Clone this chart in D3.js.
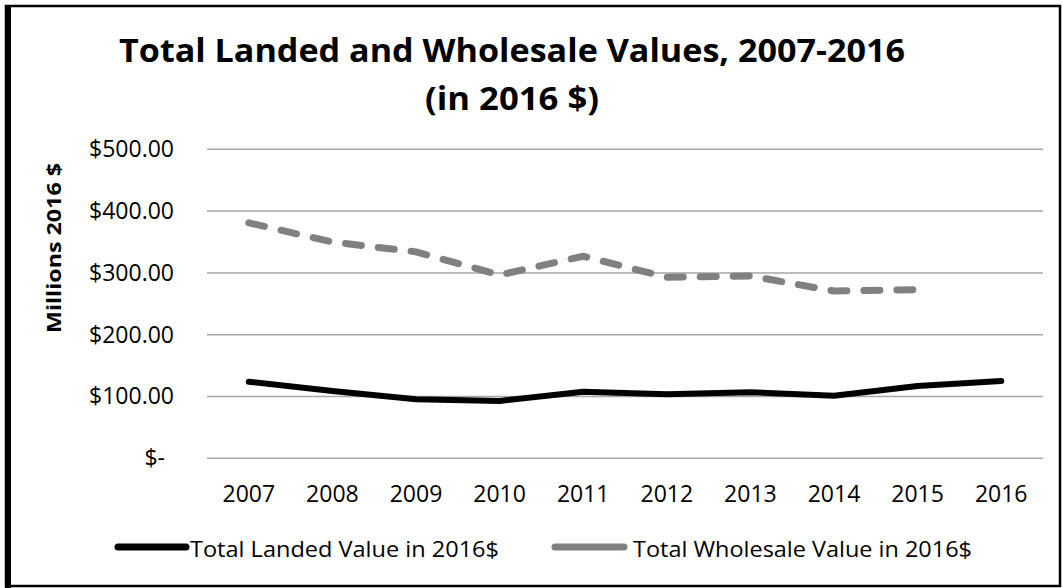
<!DOCTYPE html>
<html>
<head>
<meta charset="utf-8">
<script src="https://cdn.jsdelivr.net/npm/d3@7"></script>
<style>
  body { margin: 0; background: white; }
  svg { display: block; }
</style>
</head>
<body>
<script>
//Global sizes
var W = 1063;
var H = 588;
var PlotLeft = 207;
var PlotRight = 1043;
var PlotTop = 149.3;
var PlotBottom = 458.3;
var FontName = "'Open Sans', 'Liberation Sans', sans-serif";

//Data
var years = ["2007", "2008", "2009", "2010", "2011", "2012", "2013", "2014", "2015", "2016"];
var landedValues = [124, 109, 95.5, 92.7, 107.8, 103.5, 106.8, 101.3, 117, 125];
var wholesaleValues = [381, 350, 334, 296.6, 327, 293, 295, 270.7, 273, null];
var yTicks = [0, 100, 200, 300, 400, 500];
var seriesNames = ["Total Landed Value in 2016$", "Total Wholesale Value in 2016$"];

function main() {
  var svg = d3.select("body")
    .append("svg")
    .attr("width", W)
    .attr("height", H);

  svg.append("rect")
    .attr("width", W)
    .attr("height", H)
    .attr("fill", "white");

  var xScale = d3.scaleBand()
    .domain(years)
    .range([PlotLeft, PlotRight]);

  var yScale = d3.scaleLinear()
    .domain([0, 500])
    .range([PlotBottom, PlotTop]);

  drawFrame(svg);
  drawTitle(svg);
  drawAxes(svg, xScale, yScale);
  drawLines(svg, xScale, yScale);
  drawLegend(svg);
}

function drawFrame(svg) {
  //Outer chart border, the left one is thicker
  svg.append("rect")
    .attr("x", 6)
    .attr("y", 6)
    .attr("width", 1054)
    .attr("height", 580)
    .attr("fill", "none")
    .attr("stroke", "black")
    .attr("stroke-width", 2.5);
  svg.append("line")
    .attr("x1", 8).attr("x2", 8)
    .attr("y1", 5).attr("y2", 588)
    .attr("stroke", "black")
    .attr("stroke-width", 6);
}

function drawTitle(svg) {
  svg.append("text")
    .attr("x", 512)
    .attr("y", 61.5)
    .attr("text-anchor", "middle")
    .attr("font-family", FontName)
    .attr("font-weight", "bold")
    .attr("font-size", "32px")
    .attr("textLength", 786)
    .attr("lengthAdjust", "spacingAndGlyphs")
    .text("Total Landed and Wholesale Values, 2007-2016");
  svg.append("text")
    .attr("x", 512)
    .attr("y", 110)
    .attr("text-anchor", "middle")
    .attr("font-family", FontName)
    .attr("font-weight", "bold")
    .attr("font-size", "32px")
    .attr("textLength", 174)
    .attr("lengthAdjust", "spacingAndGlyphs")
    .text("(in 2016 $)");

  //Y axis title
  svg.append("text")
    .attr("transform", "translate(61,248) rotate(-90)")
    .attr("text-anchor", "middle")
    .attr("font-family", FontName)
    .attr("font-weight", "bold")
    .attr("font-size", "20px")
    .attr("textLength", 170)
    .attr("lengthAdjust", "spacingAndGlyphs")
    .text("Millions 2016 $");
}

function drawAxes(svg, xScale, yScale) {
  //Gridlines
  svg.selectAll(".grid")
    .data(yTicks)
    .enter()
    .append("line")
    .attr("class", "grid")
    .attr("x1", PlotLeft)
    .attr("x2", PlotRight)
    .attr("y1", function(d) { return yScale(d); })
    .attr("y2", function(d) { return yScale(d); })
    .attr("stroke", "#a6a6a6")
    .attr("stroke-width", 1.5);

  var yFormat = d3.format("$,.2f");
  var yAxis = d3.axisLeft(yScale)
    .tickValues(yTicks)
    .tickSize(0)
    .tickPadding(33)
    .tickFormat(function(d) { return d == 0 ? "$-" : yFormat(d); });

  var gy = svg.append("g")
    .attr("transform", "translate(" + PlotLeft + ",0)")
    .call(yAxis);
  gy.select(".domain").remove();
  gy.selectAll("text")
    .attr("font-family", FontName)
    .attr("font-size", "23px")
    .attr("fill", "black")
    .attr("dx", function(d) { return d == 0 ? -9 : 0; });

  var xAxis = d3.axisBottom(xScale)
    .tickSize(0)
    .tickPadding(27);
  var gx = svg.append("g")
    .attr("transform", "translate(0," + PlotBottom + ")")
    .call(xAxis);
  gx.select(".domain").remove();
  gx.selectAll("text")
    .attr("font-family", FontName)
    .attr("font-size", "23px")
    .attr("fill", "black");
}

function drawLines(svg, xScale, yScale) {
  var half = xScale.bandwidth() / 2;
  var line = d3.line()
    .defined(function(d) { return d != null; })
    .x(function(d, i) { return xScale(years[i]) + half; })
    .y(function(d) { return yScale(d); });

  svg.append("path")
    .datum(wholesaleValues)
    .attr("d", line)
    .attr("fill", "none")
    .attr("stroke", "#808080")
    .attr("stroke-width", 7)
    .attr("stroke-linecap", "round")
    .attr("stroke-linejoin", "round")
    .attr("stroke-dasharray", "16,17");

  svg.append("path")
    .datum(landedValues)
    .attr("d", line)
    .attr("fill", "none")
    .attr("stroke", "black")
    .attr("stroke-width", 6)
    .attr("stroke-linecap", "round")
    .attr("stroke-linejoin", "round");
}

function drawLegend(svg) {
  var legendY = 547;
  var items = [
    { name: seriesNames[0], color: "black", x1: 118, x2: 186, tx: 190, len: 309 },
    { name: seriesNames[1], color: "#808080", x1: 555, x2: 624, tx: 633, len: 339 }
  ];
  var g = svg.selectAll(".legend")
    .data(items)
    .enter()
    .append("g")
    .attr("class", "legend");
  g.append("line")
    .attr("x1", function(d) { return d.x1; })
    .attr("x2", function(d) { return d.x2; })
    .attr("y1", legendY)
    .attr("y2", legendY)
    .attr("stroke", function(d) { return d.color; })
    .attr("stroke-width", 7)
    .attr("stroke-linecap", "round");
  g.append("text")
    .attr("x", function(d) { return d.tx; })
    .attr("y", 557)
    .attr("font-family", FontName)
    .attr("font-size", "22px")
    .attr("textLength", function(d) { return d.len; })
    .attr("lengthAdjust", "spacingAndGlyphs")
    .attr("fill", "black")
    .text(function(d) { return d.name; });
}

main();
</script>
</body>
</html>
